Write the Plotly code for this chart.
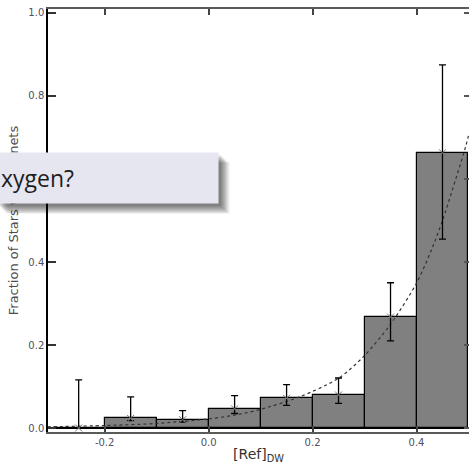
import plotly.graph_objects as go

# Histogram of planet-host fraction per [Ref]_DW bin
bin_centers = [-0.25, -0.15, -0.05, 0.05, 0.15, 0.25, 0.35, 0.45]
fractions = [0.0, 0.023, 0.020, 0.046, 0.0715, 0.0795, 0.267, 0.663]
err_plus = [0.116, 0.052, 0.022, 0.032, 0.033, 0.041, 0.083, 0.212]
err_minus = [0.0, 0.005, 0.006, 0.011, 0.017, 0.020, 0.057, 0.208]

# Fitted trend curve, sampled along its path
fit_x = [-0.31, -0.2, -0.1, 0.0, 0.05, 0.1, 0.176, 0.25, 0.298, 0.35, 0.4, 0.429, 0.45, 0.495, 0.501]
fit_y = [0.003, 0.006, 0.011, 0.022, 0.031, 0.045, 0.0755, 0.12, 0.172, 0.25, 0.349, 0.43, 0.50, 0.68, 0.71]

x_tickvals = [-0.2, 0.0, 0.2, 0.4]
x_ticktext = ["-0.2", "0.0", "0.2", "0.4"]
y_tickvals = [0.0, 0.2, 0.4, 0.6, 0.8, 1.0]
y_ticktext = ["0.0", "0.2", "0.4", "0.6", "0.8", "1.0"]

callout_text = "xygen?"

W, H = 469, 464
ML, MR, MT, MB = 48, 0, 9, 32
PW, PH = W - ML - MR, H - MT - MB


def paper_x(px):
    return (px - ML) / PW


def paper_y(py):
    return (H - MB - py) / PH


fig = go.Figure()

fig.add_trace(go.Bar(
    x=bin_centers, y=fractions, width=0.1,
    marker=dict(color="#808080", line=dict(color="#000000", width=1.2)),
    showlegend=False, hoverinfo="skip",
))

fig.add_trace(go.Scatter(
    x=fit_x, y=fit_y, mode="lines",
    line=dict(color="#333333", width=1.2, dash="dot", shape="spline", smoothing=0.8),
    showlegend=False, hoverinfo="skip",
))

fig.add_trace(go.Scatter(
    x=bin_centers, y=fractions, mode="markers",
    marker=dict(symbol="x-thin-open", size=7, color="#777777", line=dict(color="#777777", width=1)),
    error_y=dict(type="data", symmetric=False, array=err_plus, arrayminus=err_minus,
                 color="#000000", thickness=1.3, width=3.5),
    showlegend=False, hoverinfo="skip",
))

# invisible trace to carry the right-hand tick marks
fig.add_trace(go.Scatter(x=[0], y=[0], yaxis="y2", mode="markers",
                         marker=dict(opacity=0), showlegend=False, hoverinfo="skip"))

tick_font = dict(family="DejaVu Sans", size=10, color="#505062")

fig.update_layout(
    width=W, height=H,
    margin=dict(l=ML, r=MR, t=MT, b=MB, autoexpand=False),
    paper_bgcolor="white", plot_bgcolor="white",
    bargap=0,
    xaxis=dict(
        range=[-0.309, 0.501], tickmode="array", tickvals=x_tickvals, ticktext=x_ticktext,
        ticks="inside", ticklen=6, tickwidth=1.5, tickcolor="#444444",
        showline=True, linecolor="#5a5a5a", linewidth=2, mirror="ticks",
        showgrid=False, zeroline=False, tickfont=tick_font,
        title=dict(text="[Ref]<sub>DW</sub>", font=dict(family="DejaVu Sans", size=14, color="#333333"),
                   standoff=7),
        automargin=False,
    ),
    yaxis=dict(
        range=[-0.0096, 1.0096], tickmode="array", tickvals=y_tickvals, ticktext=y_ticktext,
        ticks="inside", ticklen=8, tickwidth=1.5, tickcolor="#333333",
        showline=True, linecolor="#000000", linewidth=1.5, mirror=False,
        showgrid=False, zeroline=True, zerolinecolor="#000000", zerolinewidth=1.2,
        tickfont=tick_font,
        title=dict(text="Fraction of Stars with Planets",
                   font=dict(family="DejaVu Sans", size=13, color="#4d4d4d"), standoff=7),
        automargin=False,
    ),
    yaxis2=dict(
        range=[-0.0096, 1.0096], overlaying="y", side="right", tickmode="array",
        tickvals=y_tickvals, ticks="inside", ticklen=5, tickwidth=1.5, tickcolor="#555555",
        showticklabels=False, showline=False, showgrid=False, zeroline=False,
    ),
)

# callout box with a soft drop shadow
box_left, box_top, box_w, box_h, pad = -4, 151.7, 213, 42, 4
annotations = []
for dx, dy, a in [(3, 3, 0.14), (5, 5, 0.14), (7, 7, 0.14), (9, 9, 0.12), (11, 10, 0.08)]:
    annotations.append(dict(
        xref="paper", yref="paper", x=paper_x(box_left), y=paper_y(box_top),
        xanchor="left", yanchor="top", xshift=dx, yshift=-dy,
        width=box_w, height=box_h, borderpad=pad, text=" ", showarrow=False,
        bgcolor=f"rgba(0,0,0,{a})",
    ))
annotations.append(dict(
    xref="paper", yref="paper", x=paper_x(box_left), y=paper_y(box_top),
    xanchor="left", yanchor="top", width=box_w, height=box_h, borderpad=pad,
    text=callout_text, align="left", valign="middle", showarrow=False,
    bgcolor="#e6e6f0", font=dict(family="Open Sans", size=23, color="#1e1e1e"),
))
fig.update_layout(annotations=annotations)

fig.write_html("out.html")
